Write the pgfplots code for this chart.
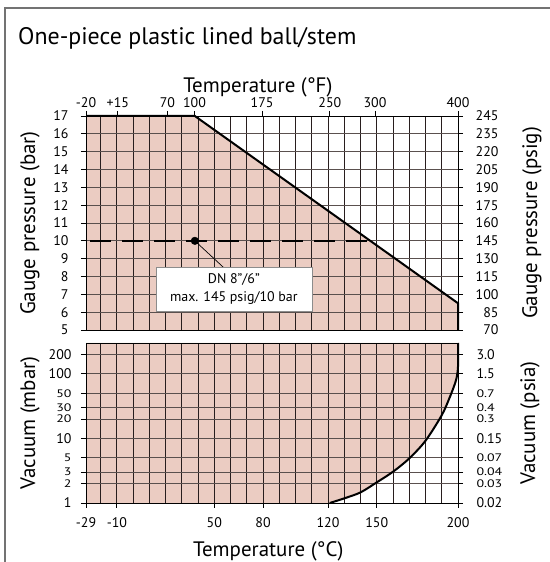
\documentclass[border=0pt]{standalone}
\usepackage{fontspec}
\setmainfont{PT Sans}
\usepackage{graphicx}
\usepackage{pgfplots}
\pgfplotsset{compat=1.18}
\definecolor{pinkfill}{RGB}{235,204,194}
\definecolor{vgrid}{RGB}{40,30,30}
\definecolor{hgrid}{RGB}{90,80,78}
% squeezed tick label for the crowded log ticks
\newcommand{\sq}[1]{\scalebox{1}[0.78]{#1}}
\pgfplotsset{
  base/.style={
    scale only axis, width=372bp, anchor=south west,
    xmin=-29, xmax=200,
    /pgf/number format/assume math mode=true,
    tick label style={font=\fontsize{14}{14}\selectfont},
    label style={font=\fontsize{21}{24}\selectfont},
    tick align=outside, major tick length=5bp, minor tick length=0pt,
    axis line style={line width=0.9bp},
    tick style={black, line width=0.9bp},
    major grid style={hgrid, line width=0.8bp},
    minor grid style={vgrid, line width=0.8bp},
  },
}
\begin{document}
\begin{tikzpicture}
\useasboundingbox (0,0) rectangle (550bp,562bp);
\draw[black!55, line width=1.5bp] (5bp,0) -- (5bp,554bp) -- (550bp,554bp);
\node[anchor=base west, font=\fontsize{24}{28}\selectfont, inner sep=0pt] at (18bp,517bp) {One-piece plastic lined ball/stem};

% pressure, background with grid
\begin{axis}[base, at={(86bp,232bp)}, height=214bp,
  ymin=5, ymax=17, axis on top,
  xtick={-29,-9.4,21.1,37.8,79.4,121.1,148.9,200},
  xticklabels={-20,+15,70,100,175,250,300,400},
  xtick pos=upper, xticklabel pos=upper,
  minor xtick={-20,-10,...,190}, xminorgrids=true,
  ytick={5,...,17}, yticklabels={5,6,7,8,9,10,11,12,13,14,15,16,17},
  ymajorgrids=true, ytick pos=left,
  yticklabel style={xshift=-9bp},
  xlabel={Temperature (°F)},
  xlabel style={at={(axis description cs:0.462,1.112)}, anchor=base},
  ylabel={Gauge pressure (bar)},
  ylabel style={at={(axis description cs:-0.1505,0.5)}, anchor=center},
]
\addplot[fill=pinkfill, draw=none] coordinates {(-29,5) (-29,17) (38,17) (200,6.5) (200,5) (-29,5)};
\end{axis}

% pressure, psig scale and limit line
\begin{axis}[base, at={(86bp,232bp)}, height=214bp,
  ymin=5, ymax=17, clip=false,
  hide x axis, axis y line*=right,
  ytick={5,...,17},
  yticklabels={70,85,100,115,130,145,160,175,190,205,220,235,245},
  yticklabel style={anchor=east, xshift=39bp},
  ylabel={Gauge pressure (psig)},
  ylabel style={at={(axis description cs:1.199,0.5)}, anchor=center},
]
\addplot[black, line width=0.7bp] coordinates {(38,10) (55.4,8.53)};
\addplot[black, line width=2.5bp, dash pattern=on 21bp off 11bp] coordinates {(-26.3,10) (146,10)};
\addplot[black, only marks, mark=*, mark size=3.8bp] coordinates {(38,10)};
\addplot[black, line width=2bp] coordinates {(-29,17) (38,17) (200,6.5) (200,5)};
\node[fill=white, draw=black!45, line width=0.6bp, align=center, inner sep=2bp,
  minimum width=156bp, minimum height=44.5bp,
  font=\fontsize{14}{18}\selectfont] at (axis cs:62,7.28) {DN 8”/6”\\max. 145 psig/10 bar};
\end{axis}

% vacuum, background with grid
\begin{axis}[base, at={(86bp,59bp)}, height=160bp,
  ymode=log, ymin=1, ymax=300, axis on top,
  xtick={-29,-10,50,80,120,150,200},
  xticklabels={-29,-10,50,80,120,150,200},
  xtick pos=lower, minor xtick={-20,-10,...,190}, xminorgrids=true,
  ytick={1,2,3,5,10,20,30,50,100,200},
  yticklabels={1,\sq{2},\sq{3},\sq{5},10,\sq{20},\sq{30},\sq{50},100,200},
  ymajorgrids=true, ytick pos=left,
  yticklabel style={xshift=-6bp},
  xticklabel style={yshift=-6bp},
  xlabel={Temperature (°C)},
  xlabel style={at={(axis description cs:0.49,-0.336)}, anchor=base},
  ylabel={Vacuum (mbar)},
  ylabel style={at={(axis description cs:-0.1505,0.5)}, anchor=center},
]
\addplot[fill=pinkfill, draw=none] coordinates {(-29,1) (121,1) (130,1.18) (140,1.46) (150,2.09) (160,3.05) (170,4.9) (180,9.2) (190,22.9) (195,43.8) (198.8,80) (200,130) (200,300) (-29,300) (-29,1)};
\end{axis}

% vacuum, psia scale and limit curve
\begin{axis}[base, at={(86bp,59bp)}, height=160bp,
  ymode=log, ymin=1, ymax=300, clip=false,
  hide x axis, axis y line*=right,
  ytick={1,2,3,5,10,20,30,50,100,200},
  yticklabels={0.02,\sq{0.03},\sq{0.04},\sq{0.07},0.15,\sq{0.3},\sq{0.4},\sq{0.7},1.5,3.0},
  yticklabel style={xshift=10bp},
  ylabel={Vacuum (psia)},
  ylabel style={at={(axis description cs:1.1935,0.5)}, anchor=center},
]
\addplot[black, line width=2bp, smooth, tension=0.5] coordinates {(121,1) (130,1.18) (140,1.46) (150,2.09) (160,3.05) (170,4.9) (180,9.2) (190,22.9) (195,43.8) (198.8,80) (200,130) (200,300)};
\end{axis}
\end{tikzpicture}
\end{document}
